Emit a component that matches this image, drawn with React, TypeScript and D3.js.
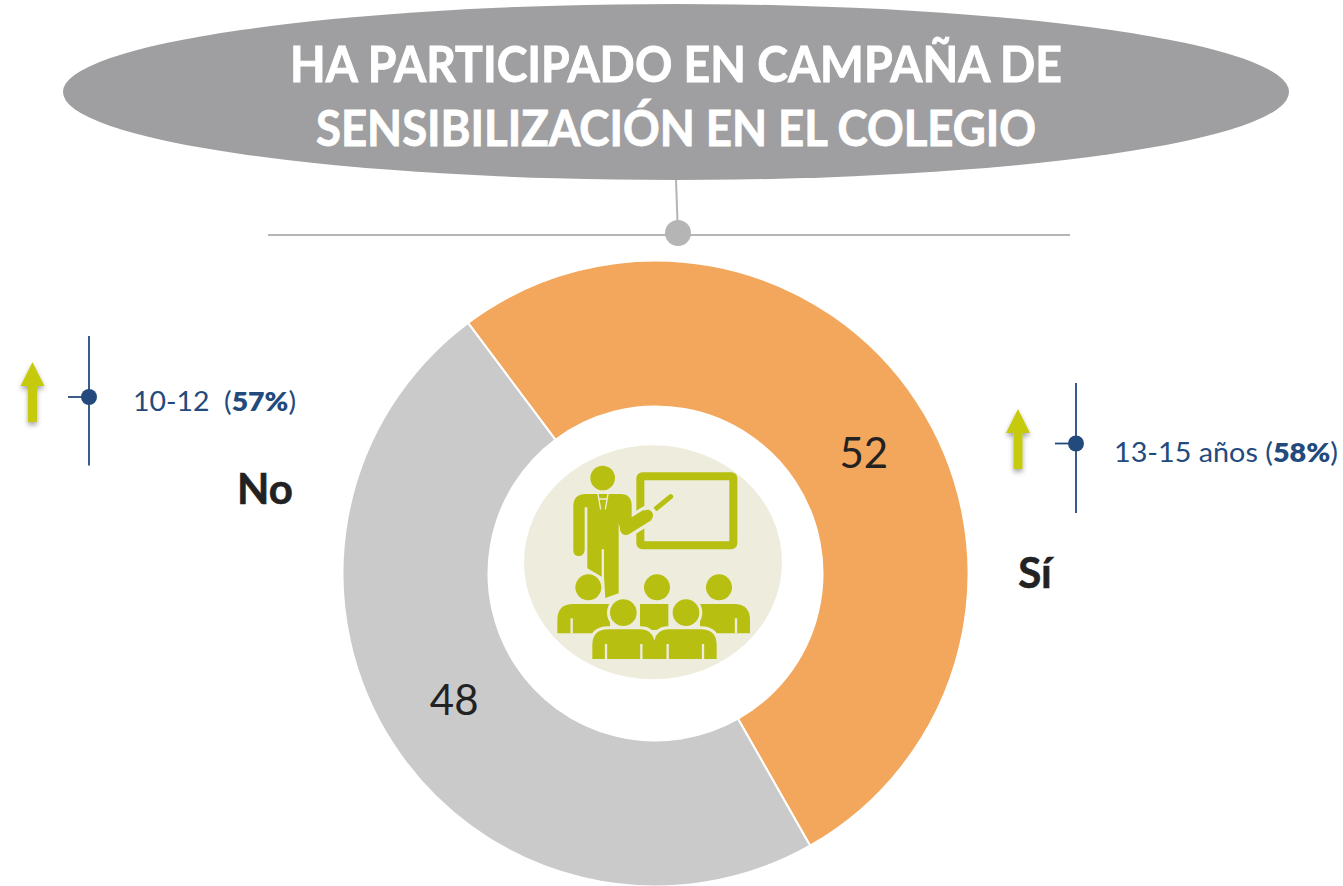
import React from "react";
import * as d3 from "d3";

const categories = ["Sí", "No"];
const values = [52, 48];
const sliceColors = ["#F3A75C", "#CACACA"];
const titleLines = ["HA PARTICIPADO EN CAMPAÑA DE", "SENSIBILIZACIÓN EN EL COLEGIO"];

const W = 1343, H = 886;
const cx = 655.5, cy = 573.5, outerR = 313, innerR = 167;
const startDeg = -36.8;
const labelNudge = [[7.5, 10.5], [-0.5, -5.5]];
const catLabelPos = [[1035, 588], [265, 504]];

const NAVY = "#234A7C";
const LIME = "#B7BF10";
const BG = "#EEEDDD";

function Callout({ x, dotY, top, bottom, arrowX, arrowTop, textX, textY, plain, bold, after, len }: any) {
  const arrow = `M${arrowX},${arrowTop} L${arrowX + 12},${arrowTop + 24} H${arrowX + 4.5} V${arrowTop + 60} H${arrowX - 4.5} V${arrowTop + 24} H${arrowX - 12} Z`;
  return (
    <g>
      <path d={arrow} fill="#C6CA10" filter="url(#arrowShadow)" />
      <line x1={x} x2={x} y1={top} y2={bottom} stroke={NAVY} strokeWidth={1.8} />
      <line x1={x - 21} x2={x} y1={dotY} y2={dotY} stroke={NAVY} strokeWidth={1.8} />
      <circle cx={x} cy={dotY} r={8} fill={NAVY} />
      <text x={textX} y={textY} fontFamily="Lato, sans-serif" fontSize={27} fill={NAVY} textLength={len} lengthAdjust="spacingAndGlyphs" xmlSpace="preserve">
        {plain}
        <tspan fontWeight={800}>{bold}</tspan>
        {after}
      </text>
    </g>
  );
}

function Icon() {
  return (
    <g transform="translate(510,430) scale(0.33333)">
      <ellipse cx={429} cy={397} rx={387} ry={351} fill={BG} />
      {/* board */}
      <rect x={391} y={139} width={279} height={207} rx={6} fill="none" stroke={LIME} strokeWidth={24} />
      {/* pointer */}
      <line x1={438} y1={236} x2={482} y2={200} stroke={LIME} strokeWidth={15} strokeLinecap="round" />
      {/* teacher */}
      <circle cx={278} cy={144} r={37} fill={LIME} />
      <line x1={347} y1={296} x2={412} y2={256} stroke={BG} strokeWidth={58} strokeLinecap="round" />
      <path
        d="M228,192 H332 Q365,192 365,228 V262 L400,240 L425,270 L358,312 Q340,320 333,305 L326,280 V490 L286,504 L282,440 V358 H275 V440 L232,415 V232 H224 V360 Q222,378 206,378 Q190,378 190,360 V228 Q190,192 228,192 Z"
        fill={LIME}
      />
      <line x1={347} y1={296} x2={412} y2={256} stroke={LIME} strokeWidth={34} strokeLinecap="round" />
      <path d="M264,192 L272,238 M294,192 L286,238 M268,207 H290" stroke={BG} strokeWidth={4} fill="none" />
      {/* back row */}
      {[[235, 472], [441, 472], [627, 472]].map(([a, b], i) => (
        <circle key={i} cx={a} cy={b} r={39} fill={LIME} stroke={i === 0 ? BG : "none"} strokeWidth={i === 0 ? 16 : 0} paintOrder="stroke" />
      ))}
      <path d="M190,522 H300 V610 H142 V570 Q142,522 190,522 Z" fill={LIME} />
      <path d="M390,522 H475 V600 H390 Z" fill={LIME} />
      <path d="M570,522 H672 Q720,522 720,570 V610 H570 Z" fill={LIME} />
      <path d="M185,565 V610 M678,565 V610" stroke={BG} strokeWidth={7} />
      {/* front row */}
      <g stroke={BG} strokeWidth={18} paintOrder="stroke">
        <circle cx={340} cy={548} r={40} fill={LIME} />
        <circle cx={528} cy={548} r={40} fill={LIME} />
        <path d="M295,598 H392 Q425,598 433,632 Q441,598 475,598 H572 Q620,598 620,645 V687 H247 V645 Q247,598 295,598 Z" fill={LIME} />
      </g>
      <path d="M288,642 V687 M394,642 V687 M473,642 V687 M579,642 V687" stroke={BG} strokeWidth={7} />
    </g>
  );
}

export default function App() {
  const pie = d3
    .pie<number>()
    .sort(null)
    .startAngle((startDeg * Math.PI) / 180)
    .endAngle(((startDeg + 360) * Math.PI) / 180);
  const arc = d3.arc<d3.PieArcDatum<number>>().innerRadius(innerR).outerRadius(outerR);
  const arcs = pie(values);

  return (
    <svg width={W} height={H} viewBox={`0 0 ${W} ${H}`} style={{ position: "absolute", left: 0, top: 0, display: "block" }}>
      <defs>
        <filter id="arrowShadow" x="-60%" y="-20%" width="220%" height="150%">
          <feDropShadow dx={0} dy={3} stdDeviation={2.5} floodColor="#000" floodOpacity={0.35} />
        </filter>
      </defs>
      <rect width={W} height={H} fill="#fff" />

      <ellipse cx={676} cy={92} rx={613} ry={88} fill="#9F9FA1" />
      {titleLines.map((t, i) => (
        <text key={t} x={676} y={82 + i * 64} textAnchor="middle" fontFamily="Lato, sans-serif" fontWeight={700} fontSize={50} fill="#fff" stroke="#fff" strokeWidth={0.9} textLength={i === 0 ? 772 : 720} lengthAdjust="spacingAndGlyphs">
          {t}
        </text>
      ))}
      <line x1={676} y1={180} x2={677.5} y2={222} stroke="#B5B5B5" strokeWidth={2} />
      <line x1={268} x2={1070} y1={235} y2={235} stroke="#B5B5B5" strokeWidth={2} />
      <circle cx={678} cy={233} r={13} fill="#B5B5B5" />

      <g transform={`translate(${cx},${cy})`}>
        {arcs.map((a, i) => (
          <path key={categories[i]} d={arc(a) ?? ""} fill={sliceColors[i]} stroke="#fff" strokeWidth={2} />
        ))}
        {arcs.map((a, i) => {
          const [x, y] = arc.centroid(a);
          return (
            <text key={i} x={x + labelNudge[i][0]} y={y + labelNudge[i][1]} dy="0.36em" textAnchor="middle" fontFamily="Lato, sans-serif" fontSize={42} fill="#222">
              {values[i]}
            </text>
          );
        })}
      </g>

      {categories.map((c, i) => (
        <text key={c} x={catLabelPos[i][0]} y={catLabelPos[i][1]} textAnchor="middle" fontFamily="Lato, sans-serif" fontWeight={700} fontSize={42} fill="#222" stroke="#222" strokeWidth={0.6}>
          {c}
        </text>
      ))}

      <Icon />

      <Callout x={89} dotY={397} top={336} bottom={465.5} arrowX={32.5} arrowTop={362} textX={133} textY={411} plain="10-12  (" bold="57%" after=")" len={163} />
      <Callout x={1076} dotY={443.5} top={383} bottom={513} arrowX={1018} arrowTop={409} textX={1114} textY={462} plain="13-15 años (" bold="58%" after=")" len={224} />
    </svg>
  );
}
